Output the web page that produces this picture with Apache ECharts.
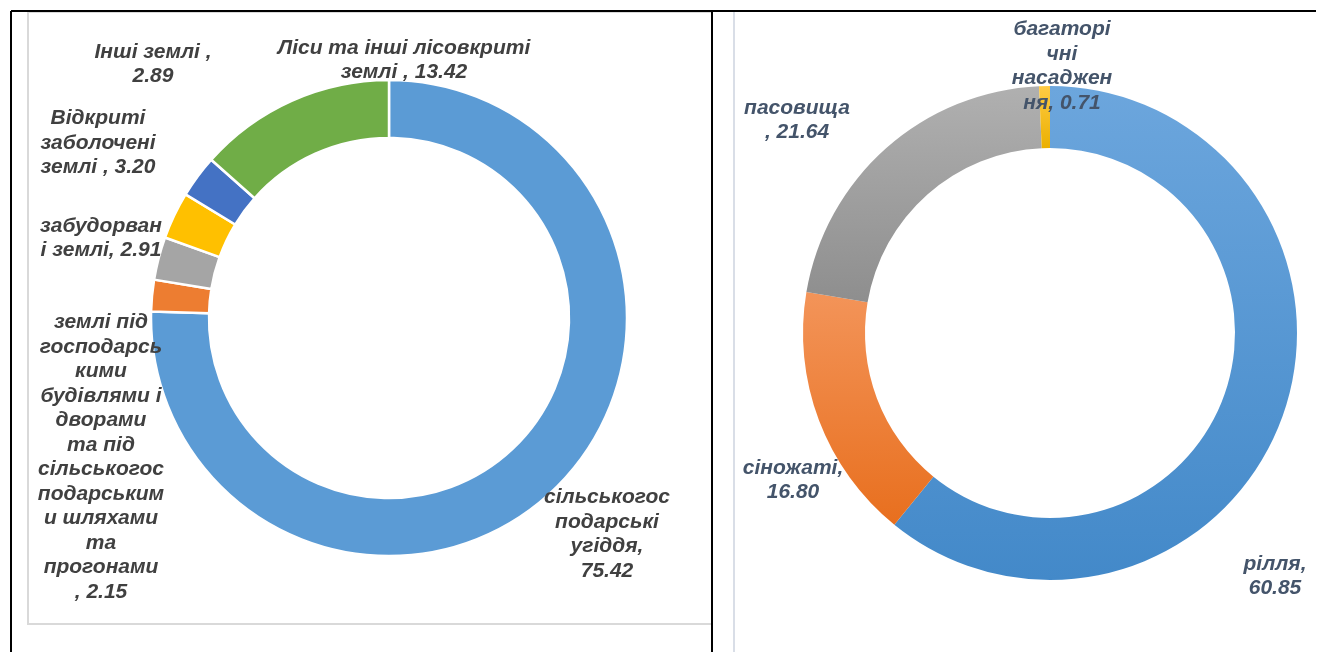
<!DOCTYPE html>
<html>
<head>
<meta charset="utf-8">
<script src="https://cdn.jsdelivr.net/npm/echarts@6/dist/echarts.min.js"></script>
<style>
  html, body { margin: 0; padding: 0; background: #fff; }
  #main { width: 1320px; height: 652px; }
</style>
</head>
<body>
<div id="main"></div>
<script>
'use strict';

// структура земельного фонду
var landNames = [
  'сільськогос\nподарські\nугіддя',
  'землі під\nгосподарсь\nкими\nбудівлями і\nдворами\nта під\nсільськогос\nподарським\nи шляхами\nта\nпрогонами',
  'забудорван\nі землі',
  'Відкриті\nзаболочені\nземлі',
  'Інші землі',
  'Ліси та інші лісовкриті\nземлі'
];
var landValues = [75.42, 2.15, 2.91, 3.20, 2.89, 13.42];
var landSeps = [',\n', '\n, ', ', ', ' , ', ' ,\n', ' , '];

// структура сільськогосподарських угідь
var agroNames = ['рілля', 'сіножаті', 'пасовища', 'багаторі\nчні\nнасаджен\nня'];
var agroValues = [60.85, 16.80, 21.64, 0.71];
var agroSeps = [',\n', ',\n', '\n, ', ', '];

var landColors = ['#5B9BD5', '#ED7D31', '#A5A5A5', '#FFC000', '#4472C4', '#70AD47'];
var agroColors = [
  ['#6CA6DD', '#4389C9'],
  ['#F39459', '#E86F1E'],
  ['#B0B0B0', '#8E8E8E'],
  ['#FFCB45', '#EBB000']
];

// позиції підписів (центр тексту)
var landLabelPos = [[607, 534], [101, 457], [101, 238], [98, 143], [153, 64], [404, 60]];
var agroLabelPos = [[1275, 576], [793, 480], [797, 120], [1062, 66]];

function buildData(names, values, colorFn) {
  return names.map(function(n, i) {
    return { name: n, value: values[i], itemStyle: { color: colorFn(i) } };
  });
}

function labelFmt(seps) {
  return function(p) {
    return p.name + seps[p.dataIndex] + p.value.toFixed(2);
  };
}

function layoutFn(pos) {
  return function(params) {
    var p = pos[params.dataIndex];
    return { x: p[0], y: p[1], align: 'center', verticalAlign: 'middle' };
  };
}

var labelBase = {
  show: true,
  position: 'outside',
  fontFamily: '"Liberation Sans", Arial, sans-serif',
  fontSize: 21,
  fontWeight: 'bold',
  fontStyle: 'italic',
  lineHeight: 24.5,
  align: 'center',
  overflow: 'none',
  width: 400
};

var chart = echarts.init(document.getElementById('main'), null, { renderer: 'canvas' });

chart.setOption({
  animation: false,
  backgroundColor: '#ffffff',
  graphic: [
    // рамки таблиці
    { type: 'rect', shape: { x: 28, y: 12, width: 684, height: 612 },
      style: { fill: 'none', stroke: '#D9D9D9', lineWidth: 2 }, z: 0 },
    { type: 'line', shape: { x1: 734, y1: 12, x2: 734, y2: 652 },
      style: { stroke: '#D9DEE7', lineWidth: 2 } },
    { type: 'line', shape: { x1: 11, y1: 11, x2: 1316, y2: 11 },
      style: { stroke: '#000', lineWidth: 2 } },
    { type: 'line', shape: { x1: 11, y1: 11, x2: 11, y2: 652 },
      style: { stroke: '#000', lineWidth: 2 } },
    { type: 'line', shape: { x1: 712, y1: 11, x2: 712, y2: 652 },
      style: { stroke: '#000', lineWidth: 2 } }
  ],
  series: [
    {
      type: 'pie',
      center: [389, 318],
      radius: [180, 238],
      startAngle: 90,
      clockwise: true,
      silent: true,
      itemStyle: { borderColor: '#fff', borderWidth: 2.5 },
      label: Object.assign({}, labelBase, {
        color: '#404040',
        formatter: labelFmt(landSeps)
      }),
      labelLine: { show: false },
      labelLayout: layoutFn(landLabelPos),
      emphasis: { disabled: true },
      data: buildData(landNames, landValues, function(i) { return landColors[i]; })
    },
    {
      type: 'pie',
      center: [1050, 333],
      radius: [185, 247],
      startAngle: 90,
      clockwise: true,
      silent: true,
      label: Object.assign({}, labelBase, {
        color: '#44546A',
        formatter: labelFmt(agroSeps)
      }),
      labelLine: { show: false },
      labelLayout: layoutFn(agroLabelPos),
      emphasis: { disabled: true },
      data: buildData(agroNames, agroValues, function(i) {
        return new echarts.graphic.LinearGradient(0, 0, 0, 1, [
          { offset: 0, color: agroColors[i][0] },
          { offset: 1, color: agroColors[i][1] }
        ]);
      })
    }
  ]
});
</script>
</body>
</html>
